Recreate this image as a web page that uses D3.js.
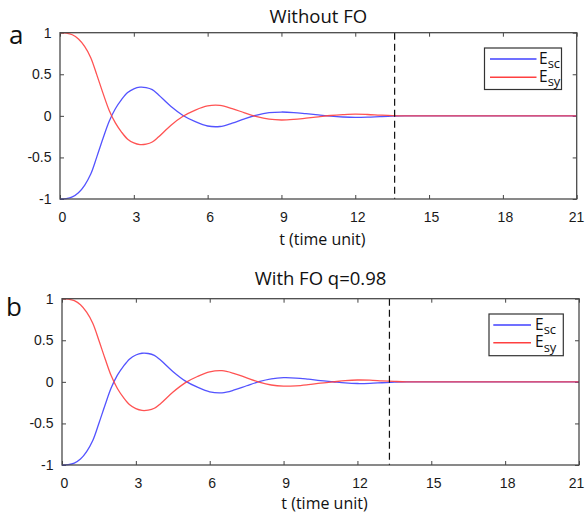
<!DOCTYPE html>
<html>
<head>
<meta charset="utf-8">
<script src="https://cdn.jsdelivr.net/npm/d3@7"></script>
<style>
  html, body { margin: 0; padding: 0; background: #fff; }
  svg { display: block; }
</style>
</head>
<body>
<svg id="chart" width="585" height="516"></svg>
<script>
// Sample times (time units)
const tSamples = [0, 0.25, 0.5, 0.75, 1, 1.25, 1.5, 1.75, 2, 2.25, 2.5, 2.75, 3, 3.25, 3.5, 3.75, 4,
  4.5, 5, 5.5, 6, 6.5, 7, 7.5, 8, 8.5, 9, 9.5, 10, 10.5, 11, 11.5, 12, 12.5, 13, 13.5, 14,
  15, 16, 17, 18, 19, 20, 21];

// Panel a: without FO
const escA = [-1.000, -0.995, -0.975, -0.925, -0.835, -0.700, -0.490, -0.270, -0.065, 0.085, 0.195, 0.280, 0.325, 0.345, 0.340, 0.315, 0.255,
  0.115, 0.005, -0.070, -0.122, -0.128, -0.087, -0.035, 0.010, 0.038, 0.046, 0.040, 0.026, 0.011, -0.004, -0.014, -0.019, -0.016, -0.009, -0.003, 0.000,
  0.000, 0.000, 0.000, 0.000, 0.000, 0.000, 0.000];
const esyA = [1.000, 0.995, 0.975, 0.925, 0.835, 0.700, 0.490, 0.270, 0.065, -0.085, -0.195, -0.280, -0.325, -0.345, -0.340, -0.315, -0.255,
  -0.115, -0.005, 0.070, 0.120, 0.126, 0.087, 0.036, -0.010, -0.040, -0.050, -0.043, -0.028, -0.012, 0.004, 0.014, 0.020, 0.016, 0.009, 0.003, 0.000,
  0.000, 0.000, 0.000, 0.000, 0.000, 0.000, 0.000];

// Panel b: with FO, q = 0.98
const escB = [-1.000, -0.996, -0.977, -0.928, -0.838, -0.705, -0.497, -0.278, -0.072, 0.080, 0.190, 0.276, 0.323, 0.344, 0.341, 0.318, 0.262,
  0.125, 0.012, -0.064, -0.120, -0.132, -0.098, -0.047, 0.002, 0.036, 0.050, 0.046, 0.032, 0.015, 0.001, -0.013, -0.020, -0.018, -0.011, -0.004, 0.000,
  0.000, 0.000, 0.000, 0.000, 0.000, 0.000, 0.000];
const esyB = [1.000, 0.996, 0.977, 0.928, 0.838, 0.705, 0.497, 0.278, 0.072, -0.080, -0.190, -0.276, -0.323, -0.344, -0.341, -0.318, -0.262,
  -0.125, -0.012, 0.064, 0.120, 0.134, 0.100, 0.048, -0.002, -0.038, -0.052, -0.048, -0.034, -0.016, -0.001, 0.014, 0.022, 0.020, 0.012, 0.005, 0.000,
  0.000, 0.000, 0.000, 0.000, 0.000, 0.000, 0.000];

// Vertical dashed markers (time units)
const markerA = 13.6;
const markerB = 13.3;

const xTicks = [0, 3, 6, 9, 12, 15, 18, 21];
const yTicks = [-1, -0.5, 0, 0.5, 1];
const seriesNames = [["E", "sc"], ["E", "sy"]];
const seriesColors = ["#4040ff", "#ff4040"];
const titles = ["Without FO", "With FO q=0.98"];
const panelLetters = ["a", "b"];
const xLabel = "t (time unit)";

const svg = d3.select("#chart");
const W = +svg.attr("width");

const panels = [
  { box: { l: 60, r: 576.7, t: 32.7, b: 199 }, esc: escA, esy: esyA, marker: markerA,
    title: titles[0], titleY: 23.3, letter: panelLetters[0], letterPos: [9, 43.5], xlabY: 245,
    legend: { x: 484.5, y: 48, w: 77, h: 41.5, x1: 490, x2: 536.5, tx: 539, rows: [59, 77.3] } },
  { box: { l: 62, r: 579, t: 298.7, b: 465 }, esc: escB, esy: esyB, marker: markerB,
    title: titles[1], titleY: 285, letter: panelLetters[1], letterPos: [6, 316], xlabY: 509,
    legend: { x: 489, y: 314, w: 74.3, h: 41.7, x1: 493.3, x2: 531, tx: 535, rows: [325, 342.7] } }
];

panels.forEach(p => {
  const B = p.box;
  const x = d3.scaleLinear().domain([0, 21]).range([B.l, B.r]);
  const y = d3.scaleLinear().domain([-1, 1]).range([B.b, B.t]);
  const g = svg.append("g");

  // plot area clip
  const clipId = "clip-" + p.letter;
  g.append("clipPath").attr("id", clipId).append("rect")
    .attr("x", B.l).attr("y", B.t - 2).attr("width", B.r - B.l).attr("height", B.b - B.t + 4);

  // axes: ticks point inward on all four sides, plain hyphen minus in labels
  const tickFont = "'Liberation Sans', Arial, sans-serif";
  const plain = d => String(d);
  const bottomAxis = d3.axisBottom(x).tickValues(xTicks).tickSizeInner(-4).tickSizeOuter(0).tickPadding(13).tickFormat(plain);
  const topAxis = d3.axisTop(x).tickValues(xTicks).tickSizeInner(-4).tickSizeOuter(0).tickFormat("");
  const leftAxis = d3.axisLeft(y).tickValues(yTicks).tickSizeInner(-4).tickSizeOuter(0).tickPadding(8.5).tickFormat(plain);
  const rightAxis = d3.axisRight(y).tickValues(yTicks).tickSizeInner(-4).tickSizeOuter(0).tickFormat("");

  const styleAxis = sel => {
    sel.select(".domain").remove();
    sel.selectAll(".tick line").attr("stroke", "#444").attr("stroke-width", 1);
    sel.selectAll(".tick text").attr("fill", "#1a1a1a").style("font-family", tickFont).style("font-size", "14px");
  };
  const gx = g.append("g").attr("transform", `translate(0,${B.b})`).call(bottomAxis).call(styleAxis);
  // keep the last label inside the page
  gx.selectAll(".tick text").attr("dx", d => (d === 21 ? Math.min(0, (W - 1) - (x(d) + 8)) : 2));
  g.append("g").attr("transform", `translate(0,${B.t})`).call(topAxis).call(styleAxis);
  g.append("g").attr("transform", `translate(${B.l},0)`).call(leftAxis).call(styleAxis);
  g.append("g").attr("transform", `translate(${B.r},0)`).call(rightAxis).call(styleAxis);

  // series lines (Esc first, Esy drawn over it)
  const line = d3.line().x(d => x(d[0])).y(d => y(d[1])).curve(d3.curveCatmullRom.alpha(0.5));
  [p.esc, p.esy].forEach((vals, i) => {
    g.append("path")
      .datum(tSamples.map((t, k) => [t, vals[k]]))
      .attr("clip-path", `url(#${clipId})`)
      .attr("fill", "none")
      .attr("stroke", seriesColors[i])
      .attr("stroke-width", 1.3)
      .attr("stroke-opacity", 0.9)
      .attr("d", line);
  });

  // dashed marker
  g.append("line")
    .attr("x1", x(p.marker)).attr("x2", x(p.marker))
    .attr("y1", y(1)).attr("y2", y(-1))
    .attr("stroke", "#111").attr("stroke-width", 1.2)
    .attr("stroke-dasharray", "7,4");

  // frame
  g.append("rect")
    .attr("x", B.l).attr("y", B.t).attr("width", B.r - B.l).attr("height", B.b - B.t)
    .attr("fill", "none").attr("stroke", "#4a4a4a").attr("stroke-width", 1.3);

  // legend
  const L = p.legend;
  g.append("rect").attr("x", L.x).attr("y", L.y).attr("width", L.w).attr("height", L.h)
    .attr("fill", "#fff").attr("stroke", "#333").attr("stroke-width", 1.2);
  seriesNames.forEach((nm, i) => {
    g.append("line").attr("x1", L.x1).attr("x2", L.x2).attr("y1", L.rows[i]).attr("y2", L.rows[i])
      .attr("stroke", seriesColors[i]).attr("stroke-width", 1.5);
    const tx = g.append("text").attr("x", L.tx).attr("y", L.rows[i] + 4.5)
      .attr("fill", "#111").style("font-family", "'Open Sans', sans-serif").style("font-size", "15.5px");
    tx.append("tspan").text(nm[0]);
    tx.append("tspan").attr("dy", 4.5).style("font-size", "13px").text(nm[1]);
  });

  // title, axis label, panel letter
  svg.append("text").attr("x", (B.l + B.r) / 2).attr("y", p.titleY).attr("text-anchor", "middle")
    .attr("fill", "#111").style("font-family", "'Open Sans', sans-serif").style("font-size", "18.5px").text(p.title);
  svg.append("text").attr("x", (B.l + B.r) / 2 + 4).attr("y", p.xlabY).attr("text-anchor", "middle")
    .attr("fill", "#111").style("font-family", "'Open Sans', sans-serif").style("font-size", "16px").text(xLabel);
  svg.append("text").attr("x", p.letterPos[0]).attr("y", p.letterPos[1])
    .attr("fill", "#111").style("font-family", "'Open Sans', sans-serif").style("font-size", "26px").text(p.letter);
});
</script>
</body>
</html>
